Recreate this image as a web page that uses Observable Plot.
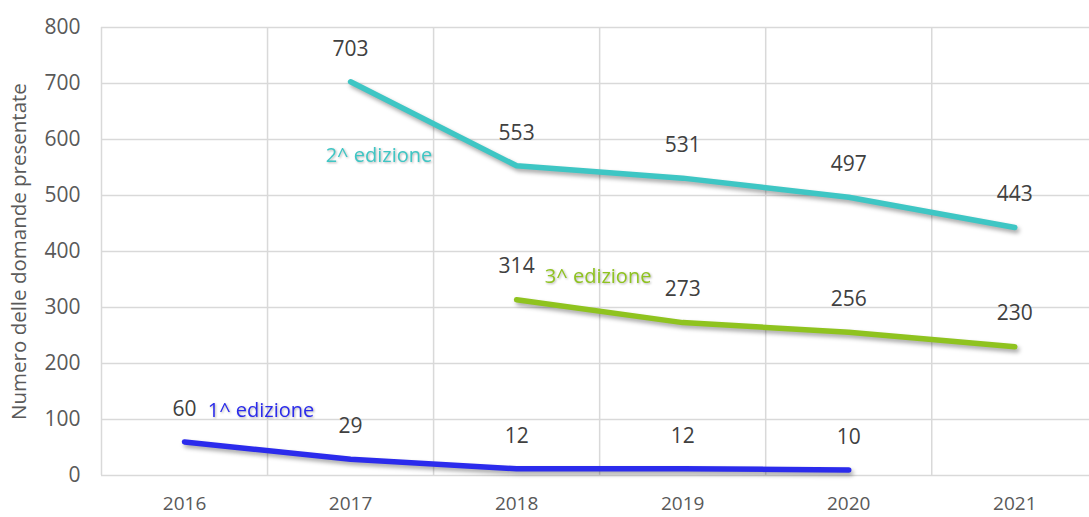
<!DOCTYPE html>
<html>
<head>
<meta charset="utf-8">
<script src="https://cdn.jsdelivr.net/npm/d3@7"></script>
<script src="https://cdn.jsdelivr.net/npm/@observablehq/plot@0.6"></script>
<style>
  html, body { margin: 0; padding: 0; background: #fff; }
  #chart svg { display: block; }
  .series path { filter: drop-shadow(2px 3px 2px rgba(0,0,0,0.35)); }
  .serieslabel text { filter: drop-shadow(1px 1px 1px rgba(0,0,0,0.3)); }
  #chart g[aria-label="y-axis tick label"], #chart g[aria-label="y-axis tick label"] text { font-size: 21px !important; }
  #chart g[aria-label="y-axis label"], #chart g[aria-label="y-axis label"] text { font-size: 20.5px !important; }
</style>
</head>
<body>
<div id="chart"></div>
<script>
const years = [2016, 2017, 2018, 2019, 2020, 2021];
const ed1Years = [2016, 2017, 2018, 2019, 2020];
const ed1Values = [60, 29, 12, 12, 10];
const ed2Years = [2017, 2018, 2019, 2020, 2021];
const ed2Values = [703, 553, 531, 497, 443];
const ed3Years = [2018, 2019, 2020, 2021];
const ed3Values = [314, 273, 256, 230];
const seriesNames = ["1^ edizione", "2^ edizione", "3^ edizione"];
const seriesColors = ["#2b2bec", "#3ec6c4", "#8fc31f"];
const seriesLabelYear = [2016.14, 2016.85, 2018.17];
const seriesLabelValue = [116, 571, 355];
const yTicks = [0, 100, 200, 300, 400, 500, 600, 700, 800];

const rows = [];
[[ed1Years, ed1Values], [ed2Years, ed2Values], [ed3Years, ed3Values]].forEach(([ys, vs], i) => {
  ys.forEach((y, j) => rows.push({series: seriesNames[i], year: y, value: vs[j]}));
});
const labelRows = seriesNames.map((s, i) => ({series: s, year: seriesLabelYear[i], value: seriesLabelValue[i]}));
const boundaries = [years[0] - 0.5, ...years.slice(0, -1).map(y => y + 0.5)];

const font = "'Open Sans', sans-serif";
const chart = Plot.plot({
  width: 1089,
  height: 517,
  marginLeft: 101,
  marginRight: 0,
  marginTop: 27,
  marginBottom: 42,
  style: {fontFamily: font, fontSize: "20px", color: "#595959", background: "#fff"},
  x: {type: "linear", domain: [2015.5, 2021.45], axis: null},
  y: {domain: [0, 800]},
  color: {domain: seriesNames, range: seriesColors},
  marks: [
    Plot.ruleY(yTicks, {stroke: "#d9d9d9", strokeWidth: 1.5}),
    Plot.ruleX(boundaries, {stroke: "#d9d9d9", strokeWidth: 1.5}),
    Plot.text(years, {x: d => d, text: d => String(d), frameAnchor: "bottom", dy: 34, fill: "#595959", fontSize: 19}),
    Plot.axisY({ticks: yTicks, tickSize: 0, tickPadding: 21,
      label: "Numero delle domande presentate", labelAnchor: "center", labelArrow: "none", labelOffset: 90}),
    Plot.line(rows, {x: "year", y: "value", z: "series", stroke: "series", strokeWidth: 5.5, className: "series"}),
    Plot.text(rows, {x: "year", y: "value", text: d => String(d.value), dy: -33, fill: "#404040", fontSize: 21}),
    Plot.text(labelRows, {x: "year", y: "value", text: "series", fill: "series", textAnchor: "start", fontSize: 20, className: "serieslabel"})
  ]
});
document.getElementById("chart").appendChild(chart);
</script>
</body>
</html>
